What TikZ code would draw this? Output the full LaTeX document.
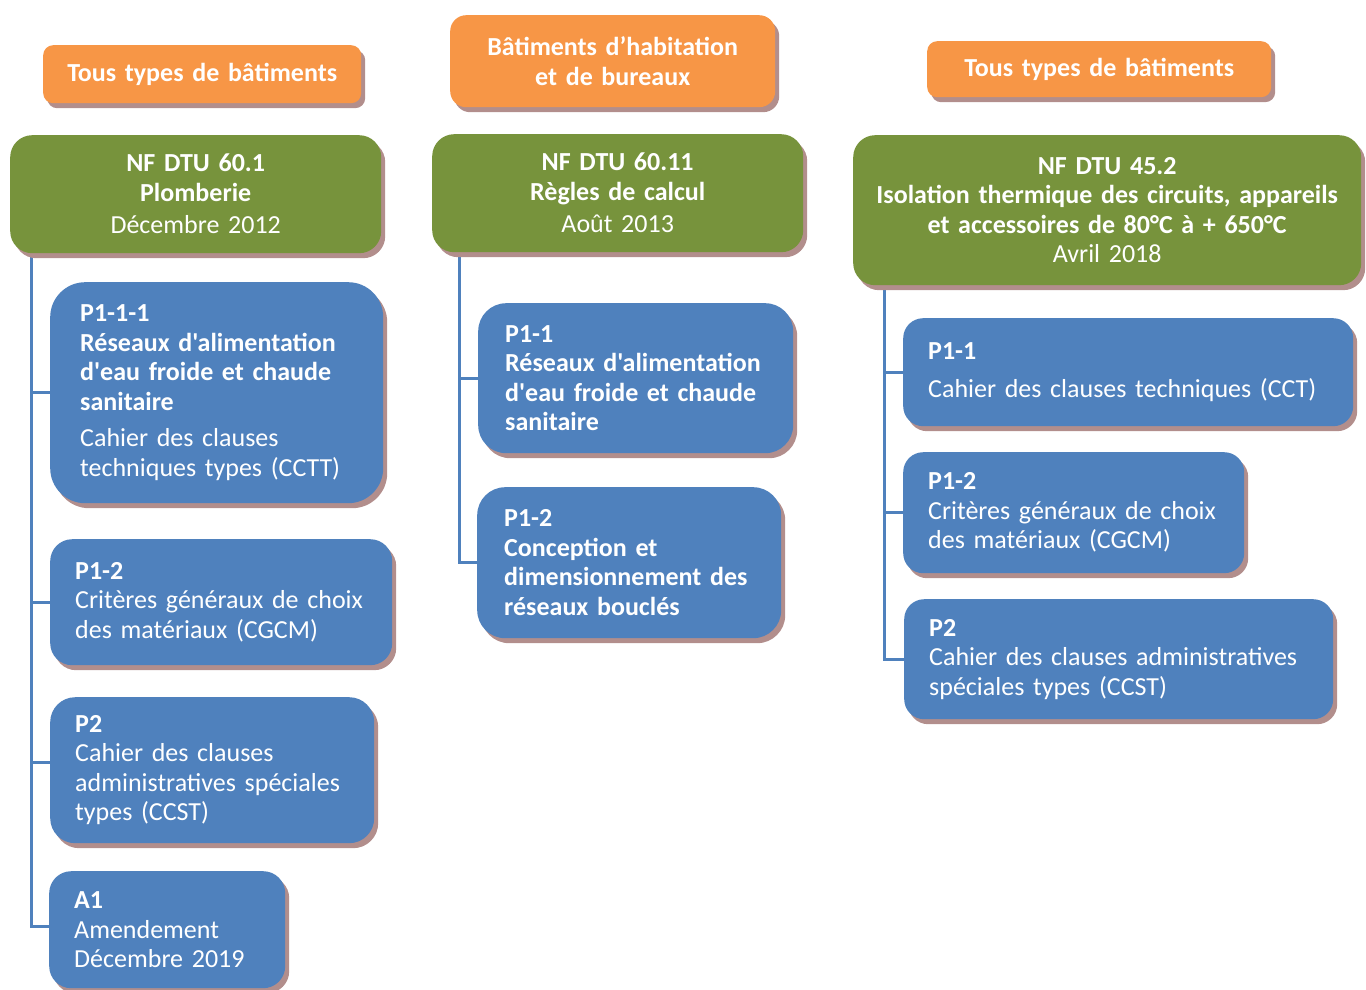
\documentclass[tikz,border=0pt]{standalone}
\usepackage{fontspec}
\setmainfont{Carlito}[Ligatures=TeXOff]
\usetikzlibrary{shadows}
\definecolor{org}{RGB}{247,150,70}
\definecolor{grn}{RGB}{119,147,60}
\definecolor{blu}{RGB}{79,129,189}
\definecolor{shd}{RGB}{178,142,140}
\pgfdeclarelayer{background}
\pgfsetlayers{background,main}
\tikzset{
  box/.style={rectangle, fill=#1, text=white, inner ysep=0pt, anchor=north west,
    drop shadow={shadow xshift=4pt, shadow yshift=-5pt, fill=shd, opacity=1},
    font=\fontsize{26}{29.5}\selectfont},
  cbox/.style={box=#1, align=center, inner xsep=10pt},
  bbox/.style={box=blu, align=left},
  conn/.style={draw=blu, line width=3pt},
}
\begin{document}
\begin{tikzpicture}[x=1pt, y=-1pt]
\useasboundingbox (0,0) rectangle (1366,990);

% ---- column 1 ----
\node[cbox=org, rounded corners=10pt, text width=298pt, minimum height=58pt] (o1) at (43,45)
  {\textbf{Tous types de bâtiments}};
\node[cbox=grn, rounded corners=22pt, text width=351pt, minimum height=118pt] (g1) at (10,135)
  {\textbf{NF DTU 60.1}\\ \textbf{Plomberie}\\[3pt] Décembre 2012};
\node[bbox, rounded corners=35pt, inner xsep=30pt, text width=273pt, minimum height=221pt] (b1) at (50,282)
  {\textbf{P1-1-1}\\ \textbf{Réseaux d'alimentation}\\ \textbf{d'eau froide et chaude}\\ \textbf{sanitaire}\\[7pt] Cahier des clauses\\ techniques types (CCTT)};
\node[bbox, rounded corners=22pt, inner xsep=25pt, text width=292pt, minimum height=126pt] (b2) at (50,539)
  {\textbf{P1-2}\\ Critères généraux de choix\\ des matériaux (CGCM)};
\node[bbox, rounded corners=25pt, inner xsep=25pt, text width=274pt, minimum height=146pt] (b3) at (50,697)
  {\textbf{P2}\\ Cahier des clauses\\ administratives spéciales\\ types (CCST)};
\node[bbox, rounded corners=22pt, inner xsep=25pt, text width=186pt, minimum height=117pt] (b4) at (49,871)
  {\textbf{A1}\\ Amendement\\ Décembre 2019};

% ---- column 2 ----
\node[cbox=org, rounded corners=16pt, text width=305pt, minimum height=92pt] (o2) at (450,15)
  {\textbf{Bâtiments d’habitation}\\ \textbf{et de bureaux}};
\node[cbox=grn, rounded corners=22pt, text width=351pt, minimum height=118pt] (g2) at (432,134)
  {\textbf{NF DTU 60.11}\\ \textbf{Règles de calcul}\\[3pt] Août 2013};
\node[bbox, rounded corners=28pt, inner xsep=27pt, text width=261pt, minimum height=150pt] (c1) at (478,303)
  {\textbf{P1-1}\\ \textbf{Réseaux d'alimentation}\\ \textbf{d'eau froide et chaude}\\ \textbf{sanitaire}};
\node[bbox, rounded corners=28pt, inner xsep=27pt, text width=250pt, minimum height=151pt] (c2) at (477,487)
  {\textbf{P1-2}\\ \textbf{Conception et}\\ \textbf{dimensionnement des}\\ \textbf{réseaux bouclés}};

% ---- column 3 ----
\node[cbox=org, rounded corners=10pt, text width=324pt, minimum height=56pt] (o3) at (927,41)
  {\textbf{Tous types de bâtiments}};
\node[cbox=grn, rounded corners=22pt, text width=488pt, minimum height=150pt] (g3) at (853,135)
  {\textbf{NF DTU 45.2}\\ \textbf{Isolation thermique des circuits, appareils}\\ \textbf{et accessoires de 80°C à + 650°C}\\ Avril 2018};
\node[bbox, rounded corners=20pt, inner xsep=25pt, text width=400pt, minimum height=108pt] (d1) at (903,318)
  {\textbf{P1-1}\\[8pt] Cahier des clauses techniques (CCT)};
\node[bbox, rounded corners=20pt, inner xsep=25pt, text width=291pt, minimum height=121pt] (d2) at (903,452)
  {\textbf{P1-2}\\ Critères généraux de choix\\ des matériaux (CGCM)};
\node[bbox, rounded corners=20pt, inner xsep=25pt, text width=379pt, minimum height=120pt] (d3) at (904,599)
  {\textbf{P2}\\ Cahier des clauses administratives\\ spéciales types (CCST)};

% ---- connectors ----
\coordinate (t1) at (31,250);
\coordinate (t2) at (459,250);
\coordinate (t3) at (884,283);
\coordinate (k3) at ([yshift=8pt]b3.west);
\coordinate (k4) at ([yshift=3pt]b4.west);
\begin{pgfonlayer}{background}
\draw[conn] (t1) |- (k4);
\draw[conn] (t1 |- b1.west) -- (b1.west);
\draw[conn] (t1 |- b2.west) -- (b2.west);
\draw[conn] (t1 |- k3) -- (k3);
\draw[conn] (t2) |- (c2.west);
\draw[conn] (t2 |- c1.west) -- (c1.west);
\draw[conn] (t3) |- (d3.west);
\draw[conn] (t3 |- d1.west) -- (d1.west);
\draw[conn] (t3 |- d2.west) -- (d2.west);
\end{pgfonlayer}
\end{tikzpicture}
\end{document}
